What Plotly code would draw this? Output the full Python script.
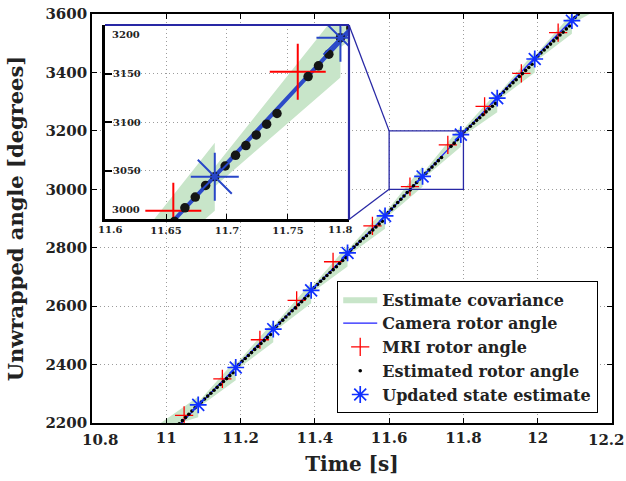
import plotly.graph_objects as go

# ---------------- data ----------------
camera_t = [11.0, 11.1, 11.2, 11.3, 11.4, 11.5, 11.6, 11.7, 11.8, 11.9, 12.0, 12.1, 12.2]
camera_angle = [2148, 2278, 2409, 2538, 2666, 2794, 2923, 3058, 3193, 3328, 3461, 3590, 3719]

mri_t = [11.048, 11.151, 11.252, 11.351, 11.449, 11.555, 11.656, 11.758, 11.857, 11.956, 12.055]
mri_angle = [2226, 2351, 2485, 2620, 2752, 2875, 3009, 3152, 3284, 3397, 3536]

upd_t = [11.086, 11.187, 11.288, 11.390, 11.488, 11.589, 11.690, 11.793, 11.891, 11.992, 12.092]
upd_angle = [2262, 2390, 2521, 2654, 2782, 2909, 3044, 3187, 3312, 3446, 3577]

est_t = [
    11.035, 11.0435, 11.052, 11.0605, 11.069, 11.0775,
    11.086, 11.0945, 11.103, 11.1115, 11.12, 11.1285, 11.137, 11.1455, 11.154, 11.1625, 11.171, 11.1795,
    11.187, 11.1955, 11.204, 11.2125, 11.221, 11.2295, 11.238, 11.2465, 11.255, 11.2635, 11.272, 11.2805,
    11.288, 11.2965, 11.305, 11.3135, 11.322, 11.3305, 11.339, 11.3475, 11.356, 11.3645, 11.373, 11.3815,
    11.39, 11.3985, 11.407, 11.4155, 11.424, 11.4325, 11.441, 11.4495, 11.458, 11.4665, 11.475, 11.4835,
    11.488, 11.4965, 11.505, 11.5135, 11.522, 11.5305, 11.539, 11.5475, 11.556, 11.5645, 11.573, 11.5815,
    11.589, 11.5975, 11.606, 11.6145, 11.623, 11.6315, 11.64, 11.6485, 11.657, 11.6655, 11.674, 11.6825,
    11.69, 11.6985, 11.707, 11.7155, 11.724, 11.7325, 11.741, 11.7665, 11.775, 11.7835,
    11.793, 11.8015, 11.81, 11.8185, 11.827, 11.8355, 11.844, 11.8525, 11.861, 11.8695, 11.878, 11.8865,
    11.891, 11.8995, 11.908, 11.9165, 11.925, 11.9335, 11.942, 11.9505, 11.959, 11.9675, 11.976, 11.9845,
    11.992, 12.0005, 12.009, 12.0175, 12.026, 12.0345, 12.043, 12.0515, 12.06, 12.0685, 12.077, 12.0855,
    12.092, 12.1005, 12.109, 12.1175,
]
est_angle = [
    2197, 2208, 2219, 2230, 2241, 2252,
    2262, 2272, 2282, 2292, 2302, 2312, 2322, 2332, 2342, 2352, 2362, 2372,
    2390, 2400, 2411, 2421, 2431, 2441, 2452, 2462, 2472, 2482, 2493, 2503,
    2521, 2531, 2542, 2552, 2563, 2573, 2584, 2594, 2605, 2615, 2626, 2636,
    2654, 2664, 2674, 2685, 2695, 2705, 2715, 2725, 2735, 2746, 2756, 2766,
    2782, 2792, 2802, 2812, 2822, 2832, 2841, 2851, 2861, 2871, 2881, 2891,
    2909, 2920, 2932, 2943, 2955, 2966, 2977, 2989, 2998, 3012, 3023, 3035,
    3044, 3055, 3066, 3076, 3087, 3098, 3109, 3147, 3158, 3170,
    3187, 3197, 3206, 3216, 3226, 3236, 3245, 3255, 3265, 3275, 3284, 3294,
    3312, 3323, 3333, 3344, 3354, 3365, 3375, 3386, 3396, 3407, 3417, 3428,
    3446, 3456, 3467, 3477, 3487, 3497, 3508, 3518, 3528, 3538, 3549, 3559,
    3577, 3588, 3599, 3610,
]

# covariance band: upper / lower edge, two points per update interval
band_t = [10.985, 11.086, 11.086, 11.187, 11.187, 11.288, 11.288, 11.390, 11.390, 11.488,
          11.488, 11.589, 11.589, 11.690, 11.690, 11.793, 11.793, 11.891, 11.891, 11.992,
          11.992, 12.092, 12.092, 12.14]
band_hi = [2200, 2290, 2272, 2416, 2400, 2546, 2531, 2680, 2664, 2806,
           2792, 2935, 2919, 3079, 3054, 3216, 3197, 3334, 3322, 3470,
           3456, 3602, 3587, 3660]
band_lo = [2180, 2220, 2252, 2346, 2380, 2476, 2511, 2610, 2644, 2736,
           2772, 2865, 2899, 3009, 3034, 3146, 3177, 3264, 3302, 3400,
           3436, 3532, 3567, 3600]

x_ticks = [10.8, 11.0, 11.2, 11.4, 11.6, 11.8, 12.0, 12.2]
x_ticktext = ["10.8", "11", "11.2", "11.4", "11.6", "11.8", "12", "12.2"]
y_ticks = [2200, 2400, 2600, 2800, 3000, 3200, 3400, 3600]
inset_x_ticks = [11.6, 11.65, 11.7, 11.75, 11.8]
inset_x_ticktext = ["11.6", "11.65", "11.7", "11.75", "11.8"]
inset_y_ticks = [3000, 3050, 3100, 3150, 3200]

# ---------------- style ----------------
X_RANGE = [10.8, 12.2]
Y_RANGE = [2200, 3600]
ZX = [11.6, 11.8]
ZY = [3000, 3200]
X2_DOM = [0.025, 0.4942]
Y2_DOM = [0.4976, 0.9731]

GREEN = "rgb(200,229,201)"
CAM_BLUE = "#1f1fff"
STAR_BLUE = "#1030ff"
BOX_BLUE = "rgb(40,40,165)"
FONT = "DejaVu Serif"
GRID = "#9c9c9c"
TXT = "#222"

bx = band_t + band_t[::-1]
by = band_hi + band_lo[::-1]

fig = go.Figure()

# main axes
fig.add_trace(go.Scatter(x=bx, y=by, fill="toself", fillcolor=GREEN, mode="lines",
                         line=dict(width=0, color=GREEN), name="Estimate covariance",
                         hoverinfo="skip"))
fig.add_trace(go.Scatter(x=camera_t, y=camera_angle, mode="lines",
                         line=dict(color=CAM_BLUE, width=1.3), name="Camera rotor angle"))
fig.add_trace(go.Scatter(x=mri_t, y=mri_angle, mode="markers",
                         marker=dict(symbol="cross-thin", size=13, color="red",
                                     line=dict(color="red", width=1.3)),
                         name="MRI rotor angle"))
fig.add_trace(go.Scatter(x=est_t, y=est_angle, mode="markers",
                         marker=dict(symbol="circle", size=3.6, color="black"),
                         name="Estimated rotor angle"))
fig.add_trace(go.Scatter(x=upd_t, y=upd_angle, mode="markers",
                         marker=dict(symbol="asterisk-open", size=14, color=STAR_BLUE,
                                     line=dict(color=STAR_BLUE, width=1.7)),
                         name="Updated state estimate"))

# inset axes
fig.add_trace(go.Scatter(x=bx, y=by, fill="toself", fillcolor=GREEN, mode="lines",
                         line=dict(width=0, color=GREEN), showlegend=False,
                         xaxis="x2", yaxis="y2", hoverinfo="skip"))
fig.add_trace(go.Scatter(x=camera_t, y=camera_angle, mode="lines",
                         line=dict(color="rgb(45,75,200)", width=4), showlegend=False,
                         xaxis="x2", yaxis="y2"))
fig.add_trace(go.Scatter(x=mri_t, y=mri_angle, mode="markers",
                         marker=dict(symbol="cross-thin", size=40, color="red",
                                     line=dict(color="red", width=2)),
                         showlegend=False, xaxis="x2", yaxis="y2"))
fig.add_trace(go.Scatter(x=est_t, y=est_angle, mode="markers",
                         marker=dict(symbol="circle", size=9.5, color="#151515"),
                         showlegend=False, xaxis="x2", yaxis="y2"))
fig.add_trace(go.Scatter(x=upd_t, y=upd_angle, mode="markers",
                         marker=dict(symbol="asterisk-open", size=40, color="rgb(40,70,200)",
                                     line=dict(color="rgb(40,70,200)", width=2)),
                         showlegend=False, xaxis="x2", yaxis="y2"))

tick_font = dict(family=FONT, size=15, color=TXT, weight="bold")
small_font = dict(family=FONT, size=10, color=TXT, weight="bold")

# end labels are drawn separately (pulled inside the axis extent, as in the reference)
main_x_text = [""] + x_ticktext[1:-1] + [""]
inset_x_text = [""] + inset_x_ticktext[1:-1] + [""]
inset_y_text = [""] + [str(v) for v in inset_y_ticks[1:-1]] + [""]

fig.update_layout(
    width=626, height=481,
    margin=dict(l=92, r=14, t=14, b=58, autoexpand=False),
    paper_bgcolor="white", plot_bgcolor="white",
    showlegend=True,
    legend=dict(x=0.471, y=0.347, xanchor="left", yanchor="top",
                bgcolor="white", bordercolor="black", borderwidth=1.3,
                font=dict(family=FONT, size=16, color=TXT, weight="bold"),
                itemwidth=34),
    xaxis=dict(domain=[0, 1], range=X_RANGE, tickvals=x_ticks, ticktext=main_x_text,
               ticks="inside", ticklen=5, tickcolor="black", tickwidth=1,
               showline=True, linecolor="black", linewidth=1.6, mirror="ticks",
               showgrid=True, gridcolor=GRID, griddash="1px,3px", gridwidth=1,
               zeroline=False, tickfont=tick_font, anchor="y", automargin=False,
               title=dict(text="Time [s]", font=dict(family=FONT, size=20, color=TXT, weight="bold"),
                          standoff=11)),
    yaxis=dict(domain=[0, 1], range=Y_RANGE, tickvals=y_ticks,
               ticks="inside", ticklen=5, tickcolor="black", tickwidth=1,
               showline=True, linecolor="black", linewidth=1.6, mirror="ticks",
               showgrid=True, gridcolor=GRID, griddash="1px,3px", gridwidth=1,
               zeroline=False, tickfont=tick_font, anchor="x", automargin=False,
               title=dict(text="Unwrapped angle [degrees]",
                          font=dict(family=FONT, size=21, color=TXT, weight="bold"),
                          standoff=16)),
    xaxis2=dict(domain=X2_DOM, range=ZX, anchor="y2", tickvals=inset_x_ticks,
                ticktext=inset_x_text, ticks="inside", ticklen=5, tickcolor="black",
                showline=True, linecolor="black", linewidth=3, mirror=False,
                showgrid=True, gridcolor=GRID, griddash="1px,3px", gridwidth=1,
                zeroline=False, tickfont=small_font, automargin=False),
    yaxis2=dict(domain=Y2_DOM, range=ZY, anchor="x2", tickvals=inset_y_ticks,
                ticktext=inset_y_text,
                ticks="inside", ticklen=7, tickcolor="black", tickwidth=1.5,
                ticklabelposition="inside",
                showline=True, linecolor="black", linewidth=3, mirror=False,
                showgrid=True, gridcolor=GRID, griddash="1px,3px", gridwidth=1,
                zeroline=False, tickfont=small_font, automargin=False),
)

# main x end labels
fig.add_annotation(xref="x", yref="paper", x=x_ticks[0], y=0, text=x_ticktext[0],
                   showarrow=False, xanchor="center", yanchor="top", xshift=8, yshift=-6,
                   font=tick_font)
fig.add_annotation(xref="x", yref="paper", x=x_ticks[-1], y=0, text=x_ticktext[-1],
                   showarrow=False, xanchor="center", yanchor="top", xshift=-6, yshift=-6,
                   font=tick_font)
# inset x end labels
fig.add_annotation(xref="x2", yref="y2 domain", x=inset_x_ticks[0], y=0, text=inset_x_ticktext[0],
                   showarrow=False, xanchor="center", yanchor="top", xshift=5, yshift=-3,
                   font=small_font)
fig.add_annotation(xref="x2", yref="y2 domain", x=inset_x_ticks[-1], y=0, text=inset_x_ticktext[-1],
                   showarrow=False, xanchor="center", yanchor="top", xshift=-9, yshift=-3,
                   font=small_font)
# inset y end labels
for val, anchor, shift in [(inset_y_ticks[-1], "top", -2), (inset_y_ticks[0], "bottom", 2)]:
    fig.add_annotation(xref="x2 domain", yref="y2", x=0, y=val, text=str(val),
                       showarrow=False, xanchor="left", yanchor=anchor,
                       xshift=5, yshift=shift, font=small_font)

def to_paper_x(v):
    return (v - X_RANGE[0]) / (X_RANGE[1] - X_RANGE[0])

def to_paper_y(v):
    return (v - Y_RANGE[0]) / (Y_RANGE[1] - Y_RANGE[0])

# zoom rectangle on the main axes
fig.add_shape(type="rect", xref="x", yref="y", x0=ZX[0], x1=ZX[1], y0=ZY[0], y1=ZY[1],
              line=dict(color=BOX_BLUE, width=1.3), layer="above")
# connectors from inset to zoom rectangle
fig.add_shape(type="line", xref="paper", yref="paper",
              x0=X2_DOM[1], y0=Y2_DOM[1], x1=to_paper_x(ZX[0]), y1=to_paper_y(ZY[1]),
              line=dict(color=BOX_BLUE, width=1.3), layer="above")
fig.add_shape(type="line", xref="paper", yref="paper",
              x0=X2_DOM[1], y0=Y2_DOM[0], x1=to_paper_x(ZX[0]), y1=to_paper_y(ZY[0]),
              line=dict(color=BOX_BLUE, width=1.3), layer="above")
# blue top and right frame of the inset
fig.add_shape(type="line", xref="x2 domain", yref="y2 domain", x0=0, x1=1, y0=1, y1=1,
              line=dict(color=BOX_BLUE, width=2.2), layer="above")
fig.add_shape(type="line", xref="x2 domain", yref="y2 domain", x0=1, x1=1, y0=0, y1=1,
              line=dict(color=BOX_BLUE, width=2.2), layer="above")

fig.write_html("out.html", config={"displayModeBar": False},
               post_script="document.body.style.margin='0';document.body.style.padding='0';")
